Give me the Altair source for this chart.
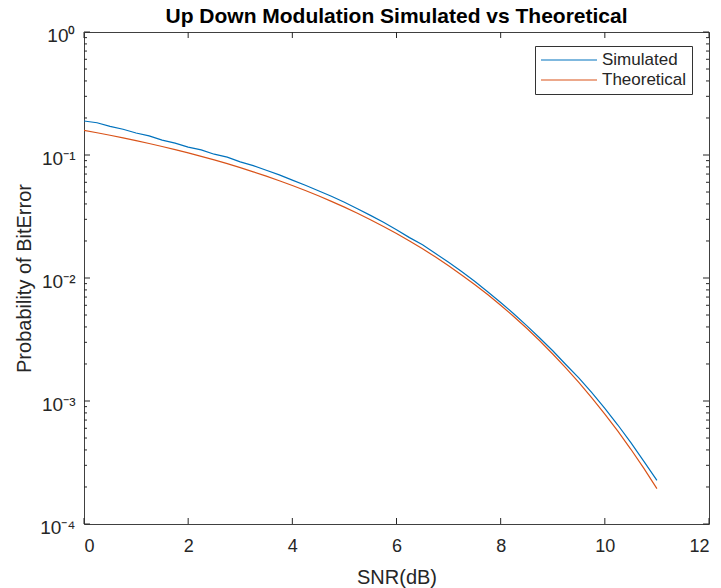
import altair as alt
import pandas as pd

# SNR grid (dB)
snr = [0.0, 0.25, 0.5, 0.75, 1.0, 1.25, 1.5, 1.75, 2.0, 2.25, 2.5, 2.75,
       3.0, 3.25, 3.5, 3.75, 4.0, 4.25, 4.5, 4.75, 5.0, 5.25, 5.5, 5.75,
       6.0, 6.25, 6.5, 6.75, 7.0, 7.25, 7.5, 7.75, 8.0, 8.25, 8.5, 8.75,
       9.0, 9.25, 9.5, 9.75, 10.0, 10.25, 10.5, 10.75, 11.0]

simulated = [0.189, 0.183, 0.171, 0.162, 0.151, 0.143, 0.132, 0.125, 0.116,
             0.110, 0.1015, 0.0962, 0.0880, 0.0820, 0.0752, 0.0690, 0.0625,
             0.0568, 0.0512, 0.0462, 0.0413, 0.0366, 0.0323, 0.0284, 0.0247,
             0.0213, 0.0186, 0.0158, 0.0134, 0.0113, 0.00940, 0.00772,
             0.00633, 0.00512, 0.00410, 0.00325, 0.00256, 0.00198, 0.00154,
             0.00117, 0.000870, 0.000638, 0.000458, 0.000323, 0.000226]

theoretical = [0.1587, 0.1517, 0.1447, 0.1378, 0.1309, 0.1241, 0.1173, 0.1106,
               0.1040, 0.0975, 0.0912, 0.0850, 0.0789, 0.0730, 0.0673, 0.0618,
               0.0565, 0.0514, 0.0466, 0.0420, 0.0377, 0.0336, 0.0298, 0.0262,
               0.0230, 0.0200, 0.0173, 0.0148, 0.0126, 0.0106, 0.00886,
               0.00733, 0.00601, 0.00487, 0.00390, 0.00309, 0.00241, 0.00186,
               0.00142, 0.00106, 0.000783, 0.000568, 0.000405, 0.000283,
               0.000194]

series_names = ["Simulated", "Theoretical"]
series_colors = ["#0072BD", "#D95319"]

x_ticks = [0, 2, 4, 6, 8, 10, 12]
y_major = [1e-4, 1e-3, 1e-2, 1e-1, 1.0]
y_minor = [2e-4, 3e-4, 4e-4, 5e-4, 6e-4, 7e-4, 8e-4, 9e-4,
           2e-3, 3e-3, 4e-3, 5e-3, 6e-3, 7e-3, 8e-3, 9e-3,
           2e-2, 3e-2, 4e-2, 5e-2, 6e-2, 7e-2, 8e-2, 9e-2,
           2e-1, 3e-1, 4e-1, 5e-1, 6e-1, 7e-1, 8e-1, 9e-1]

W, H = 625, 492
FONT = "Liberation Sans"
AX = "#262626"

df = pd.DataFrame({
    "snr": snr * 2,
    "ber": simulated + theoretical,
    "series": ["Simulated"] * len(snr) + ["Theoretical"] * len(snr),
})

xscale = alt.Scale(domain=[0, 12], nice=False, zero=False)
yscale = alt.Scale(type="log", domain=[1e-4, 1], nice=False)

ylabel_expr = ("datum.value >= 0.5 ? '10⁰' : datum.value >= 0.05 ? '10⁻¹' : "
               "datum.value >= 0.005 ? '10⁻²' : datum.value >= 0.0005 ? '10⁻³' : '10⁻⁴'")

x_axis = alt.Axis(values=x_ticks, title="SNR(dB)", format="d",
                  ticks=False, domain=False, grid=False,
                  labelFontSize=18, labelPadding=13, labelColor=AX,
                  labelFont=FONT, titleFont=FONT, titleFontSize=20,
                  titleFontWeight="normal", titleColor=AX,
                  titleBaseline="alphabetic", titleY=59)
y_axis = alt.Axis(values=y_major, title="Probability of BitError",
                  labelExpr=ylabel_expr, ticks=False, domain=False,
                  grid=False, labelFontSize=19, labelPadding=9,
                  labelOffset=3, labelColor=AX, labelFont=FONT,
                  titleFont=FONT, titleFontSize=20,
                  titleFontWeight="normal", titleColor=AX,
                  titleBaseline="alphabetic", titleX=-54)

lines = alt.Chart(df).mark_line(strokeWidth=1.2, clip=True).encode(
    x=alt.X("snr:Q", scale=xscale, axis=x_axis),
    y=alt.Y("ber:Q", scale=yscale, axis=y_axis),
    color=alt.Color("series:N",
                    scale=alt.Scale(domain=series_names, range=series_colors),
                    legend=alt.Legend(title=None, orient="none",
                                      legendX=451, legendY=14,
                                      symbolType="stroke", symbolSize=3136,
                                      symbolStrokeWidth=1.2, clipHeight=18,
                                      labelFontSize=17, labelFont=FONT,
                                      labelColor=AX, labelOffset=4,
                                      padding=5, rowPadding=2,
                                      fillColor="white", strokeColor="#333333")),
)

xt = pd.DataFrame({"snr": x_ticks})
ymaj = pd.DataFrame({"ber": y_major})
ymin = pd.DataFrame({"ber": y_minor})

x_bottom = alt.Chart(xt).mark_rule(color=AX, strokeWidth=1).encode(
    x=alt.X("snr:Q", scale=xscale, axis=x_axis),
    y=alt.value(H), y2=alt.value(H - 6))
x_top = alt.Chart(xt).mark_rule(color=AX, strokeWidth=1).encode(
    x=alt.X("snr:Q", scale=xscale, axis=x_axis),
    y=alt.value(0), y2=alt.value(6))
y_left_maj = alt.Chart(ymaj).mark_rule(color=AX, strokeWidth=1).encode(
    y=alt.Y("ber:Q", scale=yscale, axis=y_axis),
    x=alt.value(0), x2=alt.value(6))
y_right_maj = alt.Chart(ymaj).mark_rule(color=AX, strokeWidth=1).encode(
    y=alt.Y("ber:Q", scale=yscale, axis=y_axis),
    x=alt.value(W), x2=alt.value(W - 6))
y_left_min = alt.Chart(ymin).mark_rule(color=AX, strokeWidth=1).encode(
    y=alt.Y("ber:Q", scale=yscale, axis=y_axis),
    x=alt.value(0), x2=alt.value(3))
y_right_min = alt.Chart(ymin).mark_rule(color=AX, strokeWidth=1).encode(
    y=alt.Y("ber:Q", scale=yscale, axis=y_axis),
    x=alt.value(W), x2=alt.value(W - 3))

chart = alt.layer(
    lines, x_bottom, x_top, y_left_maj, y_right_maj, y_left_min, y_right_min
).properties(
    width=W, height=H,
    background="white",
    autosize=alt.AutoSizeParams(type="none"),
    padding={"left": 84, "top": 32, "right": 12, "bottom": 64},
    title=alt.TitleParams("Up Down Modulation Simulated vs Theoretical",
                          font=FONT, fontSize=21, fontWeight="bold",
                          color="#000000", anchor="middle", offset=4, dy=5),
).configure_view(
    stroke="#404040", strokeWidth=1
)

chart.save("out.html", embed_options={"renderer": "svg", "actions": False})
